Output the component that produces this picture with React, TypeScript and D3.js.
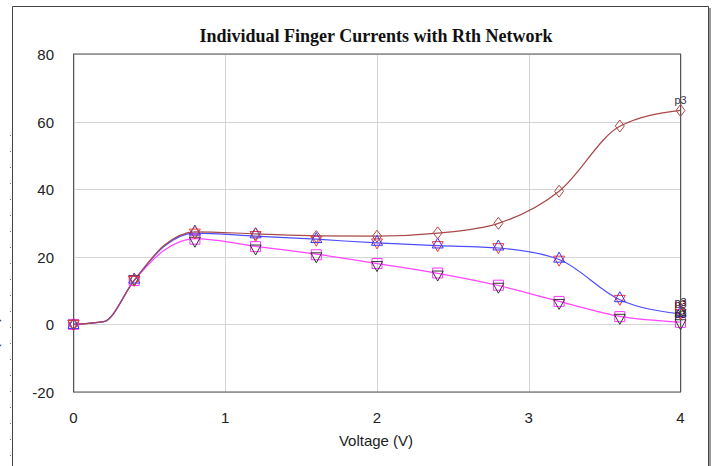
import { useEffect, useRef } from "react";
import * as d3 from "d3";

// chart size
const width = 719;
const height = 466;

// plot box
const margin = { top: 54, right: 38.5, bottom: 74, left: 73.5 };

// voltage steps of the line data
const lineVolts = [0, 0.2, 0.4, 0.6, 0.8, 1.2, 1.6, 2.0, 2.4, 2.8, 3.2, 3.6, 4.0];
// voltage steps where markers are drawn
const markVolts = [0, 0.4, 0.8, 1.2, 1.6, 2.0, 2.4, 2.8, 3.2, 3.6, 4.0];

// finger currents
const brownLine = [0, 0.8, 13, 23.5, 27.4, 26.8, 26.2, 26.1, 27.0, 29.9, 39.4, 58.6, 63.3];
const blueLine = [0, 0.8, 13, 23.2, 27.0, 26.1, 25.2, 24.1, 23.3, 22.6, 19.2, 7.3, 3.1];
const pinkLine = [0, 0.8, 13, 22.0, 25.4, 23.1, 20.8, 18.0, 15.1, 11.5, 6.8, 2.4, 0.7];

const brownMarks = [0, 13.2, 27.3, 26.8, 26.0, 26.1, 27.1, 29.9, 39.4, 58.7, 63.3];
const blueMarks = [0, 13.4, 27.6, 26.8, 25.4, 24.6, 23.8, 23.2, 19.6, 7.9, 3.6];
const redMarks = [0, 13.0, 27.0, 26.3, 24.9, 24.1, 23.3, 22.7, 19.0, 7.4, 3.2];
const pinkMarks = [0, 13.0, 25.2, 23.0, 20.6, 18.0, 15.2, 11.6, 6.8, 2.3, 0.6];
const blackMarks = [0, 13.2, 24.6, 22.3, 20.0, 17.4, 14.6, 11.0, 6.2, 1.8, 0.2];

const xTicks = [0, 1, 2, 3, 4];
const yTicks = [-20, 0, 20, 40, 60, 80];

const drawChart = (svgEl) => {
    const svg = d3.select(svgEl);
    svg.selectAll("*").remove();

    const x = d3.scaleLinear().domain([0, 4]).range([margin.left, width - margin.right]);
    const y = d3.scaleLinear().domain([-20, 80]).range([height - margin.bottom, margin.top]);

    svg.append("rect").attr("width", width).attr("height", height).attr("fill", "white");

    // outer frame
    svg.append("path")
        .attr("d", `M12.5,${height} V6.5 H708.5 V${height}`)
        .attr("fill", "none")
        .attr("stroke", "#444")
        .attr("stroke-width", 1);
    svg.append("rect")
        .attr("x", 709).attr("y", 8).attr("width", 2).attr("height", height)
        .attr("fill", "#999");

    // ruler dots on the left
    svg.append("g").selectAll("rect")
        .data(d3.range(135, height, 16))
        .join("rect")
        .attr("x", 10).attr("y", d => d).attr("width", 1).attr("height", 1)
        .attr("fill", "#666");

    // clipped y label
    svg.append("text")
        .attr("transform", "translate(-2,360) rotate(-90)")
        .attr("text-anchor", "middle")
        .attr("font-family", "Liberation Sans, Arial, sans-serif")
        .attr("font-size", 15)
        .attr("fill", "#222")
        .text("Current (mA)");

    // grid
    svg.append("g").selectAll("line")
        .data(yTicks)
        .join("line")
        .attr("x1", margin.left).attr("x2", width - margin.right)
        .attr("y1", d => Math.round(y(d)) + 0.5).attr("y2", d => Math.round(y(d)) + 0.5)
        .attr("stroke", "#d4d4d4");
    svg.append("g").selectAll("line")
        .data(xTicks)
        .join("line")
        .attr("y1", margin.top).attr("y2", height - margin.bottom)
        .attr("x1", d => Math.round(x(d)) + 0.5).attr("x2", d => Math.round(x(d)) + 0.5)
        .attr("stroke", "#d4d4d4");

    // plot border
    svg.append("rect")
        .attr("x", margin.left).attr("y", margin.top)
        .attr("width", width - margin.left - margin.right)
        .attr("height", height - margin.top - margin.bottom)
        .attr("fill", "none")
        .attr("stroke", "#555");

    // tick labels
    svg.append("g").selectAll("text")
        .data(yTicks)
        .join("text")
        .attr("x", 54).attr("y", d => y(d) + 2)
        .attr("text-anchor", "end")
        .attr("dominant-baseline", "middle")
        .attr("font-family", "Liberation Sans, Arial, sans-serif")
        .attr("font-size", 15)
        .attr("fill", "#222")
        .text(d => d);
    svg.append("g").selectAll("text")
        .data(xTicks)
        .join("text")
        .attr("x", d => x(d)).attr("y", height - margin.bottom + 27)
        .attr("text-anchor", "middle")
        .attr("dominant-baseline", "middle")
        .attr("font-family", "Liberation Sans, Arial, sans-serif")
        .attr("font-size", 15)
        .attr("fill", "#222")
        .text(d => d);

    svg.append("text")
        .attr("x", 376).attr("y", 442)
        .attr("text-anchor", "middle")
        .attr("dominant-baseline", "middle")
        .attr("font-family", "Liberation Sans, Arial, sans-serif")
        .attr("font-size", 15)
        .attr("fill", "#222")
        .text("Voltage (V)");

    svg.append("text")
        .attr("x", 376).attr("y", 38)
        .attr("text-anchor", "middle")
        .attr("dominant-baseline", "middle")
        .attr("font-family", "Liberation Serif, Times New Roman, serif")
        .attr("font-weight", "bold")
        .attr("font-size", 18)
        .attr("fill", "#111")
        .text("Individual Finger Currents with Rth Network");

    // lines
    const line = d3.line()
        .x((d, i) => x(lineVolts[i]))
        .y(d => y(d))
        .curve(d3.curveMonotoneX);

    [
        { values: pinkLine, color: "#ff44ff" },
        { values: blueLine, color: "#4d4dff" },
        { values: brownLine, color: "#a84848" },
    ].forEach(s => {
        svg.append("path")
            .attr("d", line(s.values))
            .attr("fill", "none")
            .attr("stroke", s.color)
            .attr("stroke-width", 1.2);
    });

    // markers
    const shapes = {
        diamond: "M0,-6 L4.5,0 L0,6 L-4.5,0 Z",
        up: "M0,-6 L5.5,4 L-5.5,4 Z",
        down: "M0,6 L5.5,-4 L-5.5,-4 Z",
        square: "M-5,-5 H5 V5 H-5 Z",
    };

    const markSeries = [
        { values: pinkMarks, shape: "square", color: "#ff33ff" },
        { values: blackMarks, shape: "down", color: "#333" },
        { values: redMarks, shape: "down", color: "#ff3333" },
        { values: blueMarks, shape: "up", color: "#3333ff" },
        { values: brownMarks, shape: "diamond", color: "#b04848" },
    ];

    markSeries.forEach(s => {
        svg.append("g").selectAll("path")
            .data(s.values)
            .join("path")
            .attr("transform", (d, i) => `translate(${x(markVolts[i])},${y(d)})`)
            .attr("d", shapes[s.shape])
            .attr("fill", "none")
            .attr("stroke", s.color)
            .attr("stroke-width", 1);
    });

    // end labels
    const endLabels = [
        { value: brownMarks[brownMarks.length - 1], color: "#334" },
        { value: blueMarks[blueMarks.length - 1], color: "#224" },
        { value: redMarks[redMarks.length - 1], color: "#611" },
        { value: pinkMarks[pinkMarks.length - 1], color: "#333" },
        { value: blackMarks[blackMarks.length - 1], color: "#222" },
    ];
    svg.append("g").selectAll("text")
        .data(endLabels)
        .join("text")
        .attr("x", x(4))
        .attr("y", d => y(d.value) - 6)
        .attr("text-anchor", "middle")
        .attr("font-family", "Liberation Sans, Arial, sans-serif")
        .attr("font-size", 11)
        .attr("fill", d => d.color)
        .text("p3");
};

export default function App() {
    const ref = useRef(null);

    useEffect(() => {
        drawChart(ref.current);
    }, []);

    return (
        <svg
            ref={ref}
            width={width}
            height={height}
            style={{ position: "absolute", left: 0, top: 0, display: "block" }}
        />
    );
}
